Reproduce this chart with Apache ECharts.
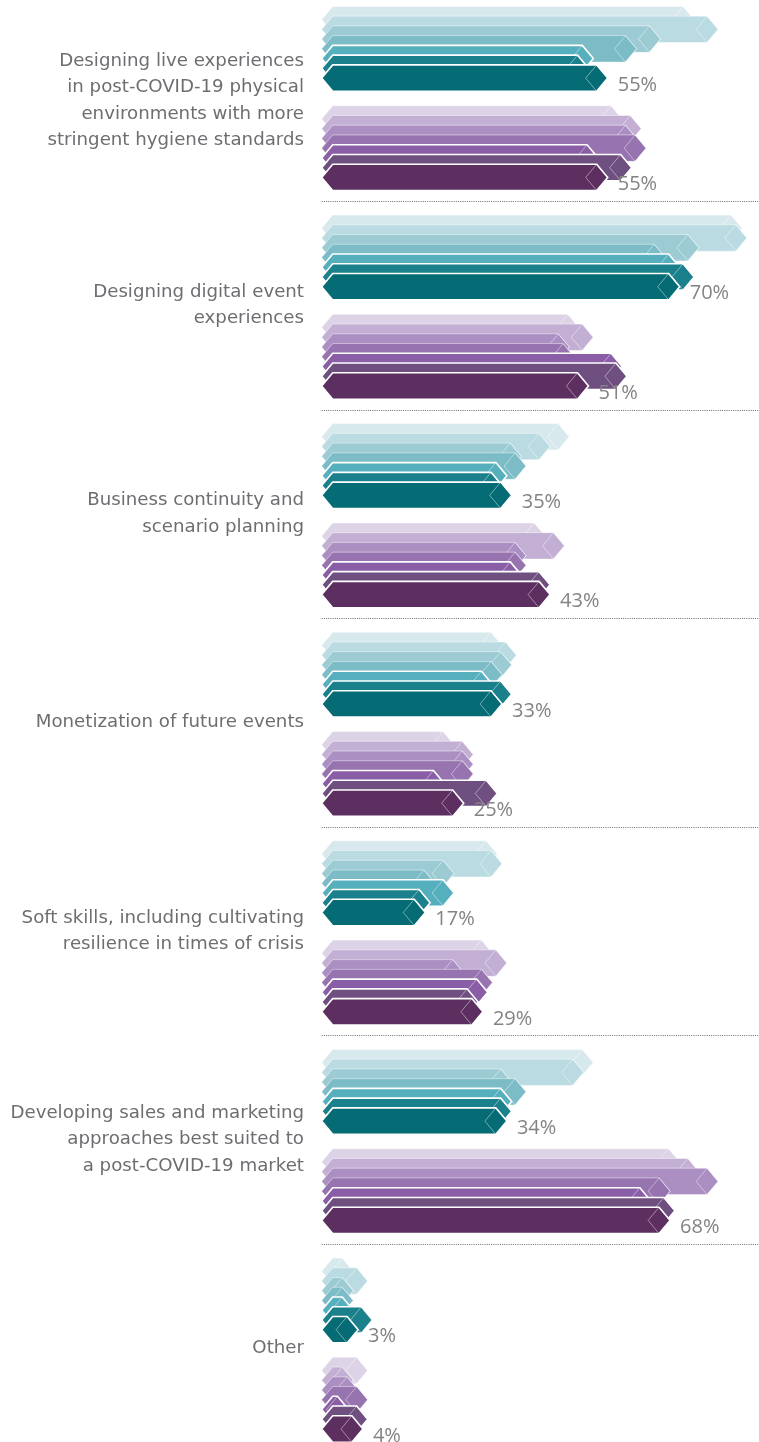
<!DOCTYPE html>
<html>
<head>
<meta charset="utf-8">
<script src="https://cdn.jsdelivr.net/npm/echarts@6/dist/echarts.min.js"></script>
<style>
  html, body { margin: 0; padding: 0; background: #ffffff; }
  #chart { width: 759px; height: 1442px; }
</style>
</head>
<body>
<div id="chart"></div>
<script>
// Topics, top to bottom
const categories = [
  'Designing live experiences\nin post-COVID-19 physical\nenvironments with more\nstringent hygiene standards',
  'Designing digital event\nexperiences',
  'Business continuity and\nscenario planning',
  'Monetization of future events',
  'Soft skills, including cultivating\nresilience in times of crisis',
  'Developing sales and marketing\napproaches best suited to\na post-COVID-19 market',
  'Other'
];

// Teal group, seven layered waves (back to front), percent
const teal1 = [73, 83, 47, 33, 32, 52, 2];
const teal2 = [78, 84, 43, 36, 33, 50, 5];
const teal3 = [66, 74, 37, 35, 23, 35, 2];
const teal4 = [61, 67, 38, 33, 19, 38, 2];
const teal5 = [52, 70, 34, 31, 23, 35, 2];
const teal6 = [51, 73, 33, 35, 18, 35, 6];
const teal7 = [55, 70, 35, 33, 17, 34, 3];

// Purple group, seven layered waves (back to front), percent
const purple1 = [58, 49, 42, 23, 31, 70, 5];
const purple2 = [62, 52, 46, 27, 34, 74, 2];
const purple3 = [61, 47, 38, 27, 25, 78, 3];
const purple4 = [63, 48, 38, 27, 31, 68, 5];
const purple5 = [53, 58, 37, 21, 30, 64, 1];
const purple6 = [60, 59, 43, 32, 28, 69, 5];
const purple7 = [55, 51, 43, 25, 29, 68, 4];

const tealColors = ['#d8e9ed', '#b9dbe1', '#9ccbd4', '#7bbcc7', '#56afbd', '#1a808c', '#056b74'];
const purpleColors = ['#ddd3e6', '#c3afd4', '#ab8fc2', '#9773b0', '#8a5ea6', '#6e4f80', '#5c2f60'];

const tealLayers = [teal1, teal2, teal3, teal4, teal5, teal6, teal7];
const purpleLayers = [purple1, purple2, purple3, purple4, purple5, purple6, purple7];

const BAR_H = 26.4;      // height of one arrow bar
const STEP = 9.75;       // vertical shift between layers
const CAP = 11;          // width of the pointed ends
const LEFT_EXT = 22;     // left tip sits this far before zero

function arrowRenderer(groupOffset, layer, color, showLabel) {
  return function (params, api) {
    const v = api.value(0);
    const ci = api.value(1);
    const zero = api.coord([0, ci]);
    const end = api.coord([v, ci]);
    const top = end[1] + groupOffset + layer * STEP;
    const bottom = top + BAR_H;
    const mid = (top + bottom) / 2;
    const xL = zero[0] - LEFT_EXT;
    const xR = end[0];
    const front = layer >= 4;
    const children = [
      {
        type: 'polygon',
        shape: {
          points: [
            [xL, mid], [xL + CAP, top], [xR - CAP, top],
            [xR, mid], [xR - CAP, bottom], [xL + CAP, bottom]
          ]
        },
        style: {
          fill: color,
          stroke: front ? '#ffffff' : 'rgba(255,255,255,0.45)',
          lineWidth: front ? 1.6 : 1
        }
      },
      {
        type: 'polygon',
        shape: {
          points: [[xR, mid], [xR - CAP, top], [xR - 2 * CAP, mid], [xR - CAP, bottom]]
        },
        style: {
          fill: 'none',
          stroke: 'rgba(255,255,255,0.55)',
          lineWidth: 0.8
        }
      }
    ];
    if (showLabel) {
      children.push({
        type: 'text',
        style: {
          x: xR + 10,
          y: mid + 7,
          text: v + '%',
          fill: '#838383',
          font: '20px "Open Sans"',
          verticalAlign: 'middle',
          align: 'left'
        }
      });
    }
    return { type: 'group', children: children };
  };
}

const series = [];

// dotted dividers between topics
series.push({
  type: 'custom',
  clip: false,
  silent: true,
  data: categories.slice(0, categories.length - 1).map((c, i) => [0, i]),
  renderItem: function (params, api) {
    const ci = api.value(1);
    const p = api.coord([0, ci]);
    const band = api.size([0, 1])[1];
    const y = Math.round(p[1] + band / 2) + 0.5;
    return {
      type: 'line',
      shape: { x1: p[0] - LEFT_EXT, y1: y, x2: 759, y2: y },
      style: { stroke: '#6a6a6a', lineWidth: 1, lineDash: [1, 1.2] }
    };
  }
});

function addGroup(layers, colors, groupOffset) {
  layers.forEach((vals, layer) => {
    series.push({
      type: 'custom',
      clip: false,
      silent: true,
      data: vals.map((v, i) => [v, i]),
      encode: { x: 0, y: 1 },
      renderItem: arrowRenderer(groupOffset, layer, colors[layer], layer === layers.length - 1)
    });
  });
}

addGroup(tealLayers, tealColors, -90.3);
addGroup(purpleLayers, purpleColors, 9);

const chart = echarts.init(document.getElementById('chart'), null, { renderer: 'canvas' });
chart.setOption({
  animation: false,
  backgroundColor: '#ffffff',
  grid: {
    left: 343.7, width: 480, top: -7.6, height: 1460.2,
    containLabel: false, outerBoundsMode: 'none'
  },
  xAxis: {
    type: 'value', min: 0, max: 100, show: false
  },
  yAxis: {
    type: 'category',
    inverse: true,
    data: categories,
    axisLine: { show: false },
    axisTick: { show: false },
    splitLine: { show: false },
    axisLabel: {
      margin: 39.7,
      fontFamily: 'DejaVu Sans',
      fontSize: 18.2,
      lineHeight: 26.5,
      color: '#6d6e71',
      align: 'right',
      // the four-line first label sits a little lower: a thin spacer line on top
      formatter: function (value, index) {
        if (index !== 0) return value;
        return '{gap| }\n' + value.split('\n').map(l => '{t|' + l + '}').join('\n');
      },
      rich: {
        gap: { lineHeight: 8, height: 8, fontSize: 4 },
        t: {
          fontFamily: 'DejaVu Sans',
          fontSize: 18.2,
          lineHeight: 26.5,
          color: '#6d6e71',
          align: 'right'
        }
      }
    }
  },
  series: series
});
</script>
</body>
</html>
